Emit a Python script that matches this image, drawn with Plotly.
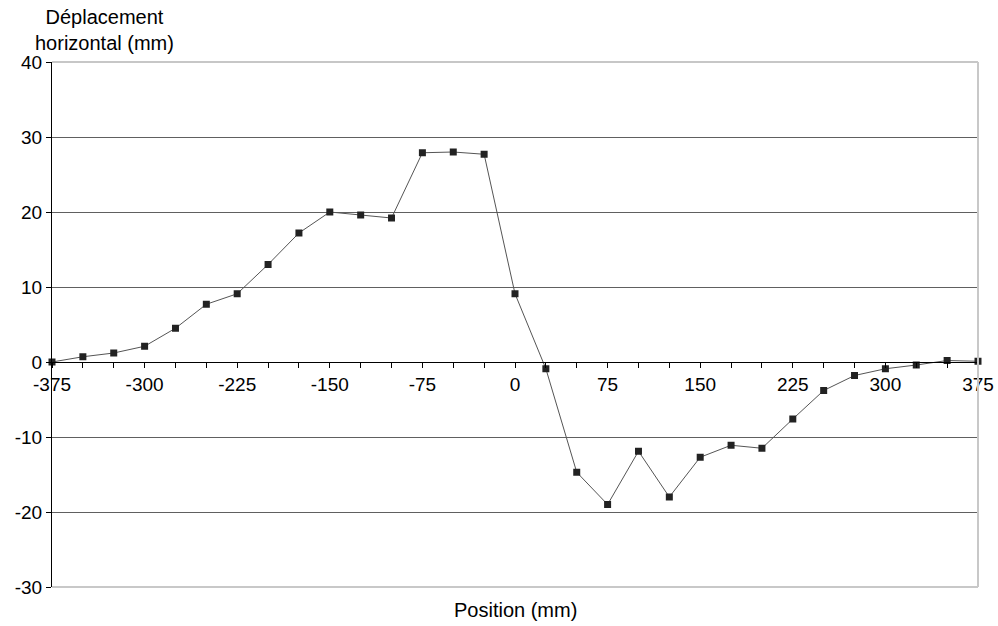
import plotly.graph_objects as go

positions = [-375, -350, -325, -300, -275, -250, -225, -200, -175, -150, -125, -100, -75, -50, -25,
             0, 25, 50, 75, 100, 125, 150, 175, 200, 225, 250, 275, 300, 325, 350, 375]
displacement = [0.0, 0.7, 1.2, 2.1, 4.5, 7.7, 9.1, 13.0, 17.2, 20.0, 19.6, 19.2, 27.9, 28.0, 27.7,
                9.1, -0.9, -14.7, -19.0, -11.9, -18.0, -12.7, -11.1, -11.5, -7.6, -3.8, -1.8, -0.9, -0.4, 0.2, 0.1]

x_tick_vals = [-375, -300, -225, -150, -75, 0, 75, 150, 225, 300, 375]
x_tick_text = ["-375", "-300", "-225", "-150", "-75", "0", "75", "150", "225", "300", "375"]
y_tick_vals = [-30, -20, -10, 0, 10, 20, 30, 40]
y_tick_text = ["-30", "-20", "-10", "0", "10", "20", "30", "40"]

y_title = "Déplacement<br>horizontal (mm)"
x_title = "Position (mm)"

font = "Liberation Sans, Arial, sans-serif"
fs_tick = 19
fs_title = 20

fig = go.Figure()
fig.add_trace(go.Scatter(
    x=positions, y=displacement, mode="lines+markers",
    line=dict(color="#555555", width=1),
    marker=dict(symbol="square", size=7, color="#222222"),
    cliponaxis=False, showlegend=False, hoverinfo="skip",
))

fig.update_layout(
    width=998, height=626,
    margin=dict(l=52, r=20, t=62, b=39),
    plot_bgcolor="white", paper_bgcolor="white",
    font=dict(family=font, size=fs_tick, color="black"),
    xaxis=dict(
        range=[-375, 375], tickmode="array", tickvals=x_tick_vals, ticktext=x_tick_text,
        anchor="free", position=30/70, automargin=False,
        showline=True, linecolor="black", linewidth=1,
        ticks="outside", ticklen=5, tickcolor="black",
        minor=dict(dtick=25, tick0=-375, ticks="outside", ticklen=5, tickcolor="black", showgrid=False),
        showgrid=False, zeroline=False,
        tickfont=dict(size=fs_tick, family=font),
    ),
    yaxis=dict(
        range=[-30, 40], tickmode="array", tickvals=y_tick_vals, ticktext=y_tick_text,
        automargin=False,
        showline=True, linecolor="black", linewidth=1,
        ticks="outside", ticklen=5, tickcolor="black",
        showgrid=True, gridcolor="#606060", gridwidth=1, zeroline=False,
        tickfont=dict(size=fs_tick, family=font),
    ),
    shapes=[
        dict(type="line", xref="paper", yref="paper", x0=0, x1=1, y0=1, y1=1,
             line=dict(color="#b4b4b4", width=1.5)),
        dict(type="line", xref="paper", yref="paper", x0=0, x1=1, y0=0, y1=0,
             line=dict(color="#c8c8c8", width=2)),
        dict(type="line", xref="paper", yref="paper", x0=1, x1=1, y0=0, y1=1,
             line=dict(color="#c8c8c8", width=2)),
    ],
    annotations=[
        dict(text=y_title, xref="paper", yref="paper", x=0, xshift=52, y=1.0, yshift=6,
             xanchor="center", yanchor="bottom", showarrow=False, align="center",
             font=dict(size=fs_title, family=font)),
        dict(text=x_title, xref="paper", yref="paper", x=0.5, y=0, yshift=-10,
             xanchor="center", yanchor="top", showarrow=False,
             font=dict(size=fs_title, family=font)),
    ],
)

fig.write_html("out.html", config={"displayModeBar": False},
               post_script="document.body.style.margin='0';")
